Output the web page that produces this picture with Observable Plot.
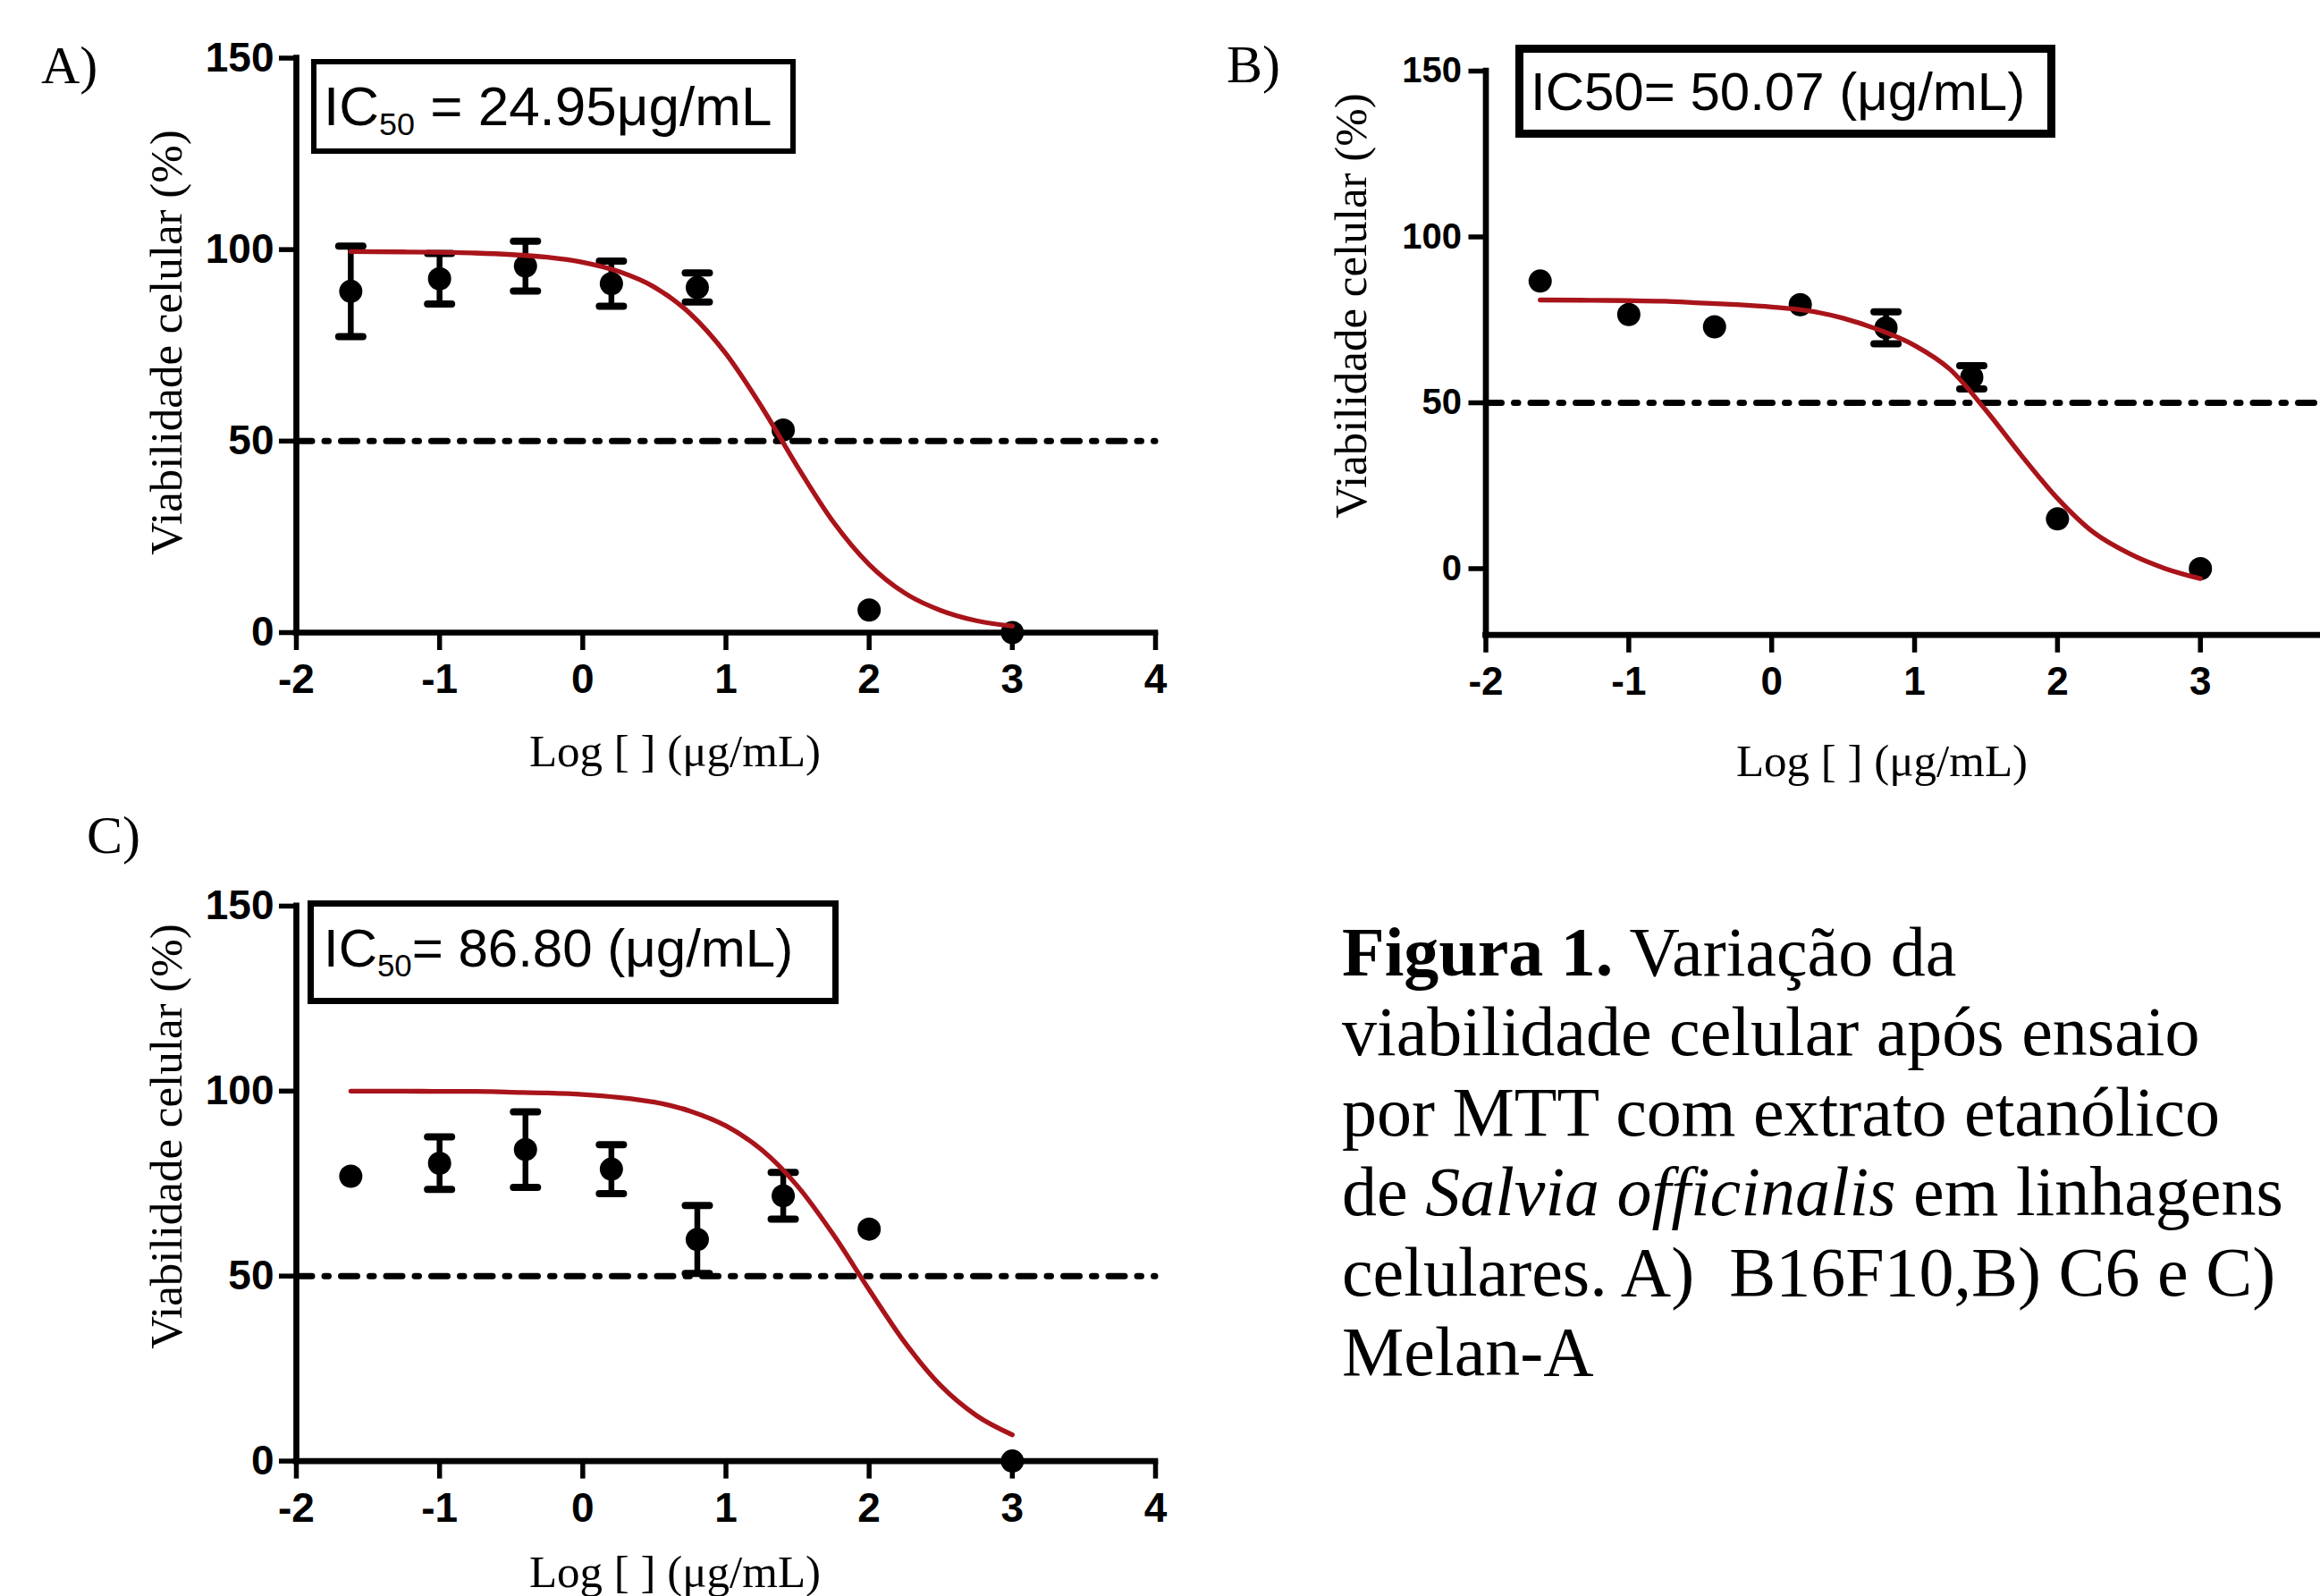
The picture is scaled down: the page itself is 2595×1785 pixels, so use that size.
<!DOCTYPE html>
<html>
<head>
<meta charset="utf-8">
<script src="https://cdn.jsdelivr.net/npm/d3@7"></script>
<script src="https://cdn.jsdelivr.net/npm/@observablehq/plot@0.6"></script>
<style>
  html, body { margin: 0; padding: 0; background: #fff; }
  #page { position: relative; width: 2595px; height: 1785px; overflow: hidden; background: #fff; }
  #page > svg { position: absolute; }
</style>
</head>
<body>
<div id="page"></div>
<script>
// ---------------- data ----------------
const logConc = [-1.62, -1.0, -0.4, 0.2, 0.8, 1.4, 2.0, 3.0];

const meanA = [89.1, 92.4, 95.7, 91.1, 90.1, 52.9, 5.9, 0];
const semA  = [11.8, 6.6, 6.5, 5.9, 3.8, 0, 0, 0];

const meanB = [86.7, 76.6, 72.9, 79.6, 72.6, 57.7, 15.0, 0];
const semB  = [0, 0, 0, 0, 4.8, 3.5, 0, 0];

const meanC = [77.0, 80.5, 84.2, 78.9, 59.9, 71.7, 62.7, 0];
const semC  = [0, 7.1, 10.2, 6.6, 9.2, 6.3, 0, 0];

// fitted dose-response curves
const fitX = [-1.62, -1.25, -1, -0.75, -0.5, -0.25, 0, 0.25, 0.5, 0.75, 1, 1.25, 1.5, 1.75, 2, 2.25, 2.5, 2.75, 3];
const fitA = [99.5, 99.4, 99.3, 99.1, 98.7, 98.0, 96.7, 94.3, 90.2, 83.3, 72.8, 58.9, 43.3, 28.9, 17.8, 10.3, 5.8, 3.1, 1.7];
const fitB = [81.0, 80.9, 80.8, 80.6, 80.1, 79.6, 78.9, 77.8, 75.5, 72.0, 67.3, 60.0, 47.7, 34.0, 21.2, 11.0, 4.6, 0.1, -3.0];
const fitC = [100, 100, 99.9, 99.9, 99.7, 99.5, 99.1, 98.3, 97.0, 94.6, 90.6, 84.1, 74.3, 61.2, 46.3, 32.0, 20.4, 12.3, 7.1];

const halfLine = [50];
const yTicks = [0, 50, 100, 150];
const xTicksAC = [-2, -1, 0, 1, 2, 3, 4];
const xTicksB = [-2, -1, 0, 1, 2, 3];

// texts
const panelLetters = ["A)", "B)", "C)"];
const yTitle = "Viabilidade celular (%)";
const xTitle = "Log [ ] (μg/mL)";
const icA = ["IC", "50", " = 24.95μg/mL"];
const icB = ["IC50= 50.07 (μg/mL)", "", ""];
const icC = ["IC", "50", "= 86.80 (μg/mL)"];

// ---------------- drawing ----------------
const serif = '"Palatino Linotype","Book Antiqua",Palatino,"Liberation Serif","Times New Roman",serif';
const sans = '"Liberation Sans",Arial,Helvetica,sans-serif';
const RED = "#a8141a";

const capSymbol = {
  draw(ctx, size) {
    const r = Math.sqrt(size / Math.PI);
    ctx.moveTo(-r, 0);
    ctx.lineTo(r, 0);
  }
};

function panel(cfg) {
  const pts = logConc.map((x, i) => ({x, y: cfg.means[i], lo: cfg.means[i] - cfg.sems[i], hi: cfg.means[i] + cfg.sems[i], err: cfg.sems[i] > 0}));
  const errs = pts.filter(d => d.err);
  const curve = fitX.map((x, i) => ({x, y: cfg.fit[i]}));
  const [x0, x1] = cfg.xDomain;
  const [y0, y1] = cfg.yDomain;
  return Plot.plot({
    width: cfg.width,
    height: cfg.height,
    marginLeft: cfg.ml, marginRight: cfg.mr, marginTop: cfg.mt, marginBottom: cfg.mb,
    x: {domain: cfg.xDomain, axis: null, label: null},
    y: {domain: cfg.yDomain, axis: null, label: null},
    style: {background: "transparent", overflow: "visible", fontFamily: sans, color: "black"},
    marks: [
      // 50 % reference line (dash-dot)
      Plot.ruleY(halfLine, {x1: () => x0, x2: () => x1, stroke: "black", strokeWidth: 7, strokeDasharray: "18,14,4.5,14", strokeLinecap: "round"}),
      // axis lines
      Plot.ruleX([x0], {y1: () => y0, y2: () => y1, stroke: "black", strokeWidth: 6.7, strokeLinecap: "square"}),
      Plot.ruleY([y0], {x1: () => x0, x2: () => x1, stroke: "black", strokeWidth: 6.7, strokeLinecap: "square"}),
      Plot.axisY(yTicks, {anchor: "left", tickSize: 19, tickPadding: cfg.yPad, strokeWidth: 5.5, fontSize: cfg.yFont, fontWeight: "bold", fontFamily: sans, fill: "black", tickFormat: d => String(d), label: null}),
      Plot.axisX(cfg.xTicks, {anchor: "bottom", tickSize: 20, tickPadding: cfg.xPad, strokeWidth: 5.5, fontSize: cfg.xFont, fontWeight: "bold", fontFamily: sans, fill: "black", tickFormat: d => String(d), label: null}),
      // error bars
      Plot.ruleX(errs, {x: "x", y1: "lo", y2: "hi", stroke: "black", strokeWidth: 6.5}),
      Plot.dot(errs, {x: "x", y: "hi", symbol: capSymbol, r: 13.5, fill: "none", stroke: "black", strokeWidth: 8, strokeLinecap: "round"}),
      Plot.dot(errs, {x: "x", y: "lo", symbol: capSymbol, r: 13.5, fill: "none", stroke: "black", strokeWidth: 8, strokeLinecap: "round"}),
      // means
      Plot.dot(pts, {x: "x", y: "y", r: 13, fill: "black", stroke: "none"}),
      // fitted curve
      Plot.line(curve, {x: "x", y: "y", stroke: RED, strokeWidth: 5.3, curve: "monotone-x"})
    ]
  });
}

const page = document.getElementById("page");
function place(node, left, top) {
  node.style.left = left + "px";
  node.style.top = top + "px";
  page.appendChild(node);
}

place(panel({means: meanA, sems: semA, fit: fitA, xDomain: [-2, 4], yDomain: [0, 150], xTicks: xTicksAC,
  width: 1320, height: 900, ml: 331, mr: 28, mt: 64.5, mb: 193, yFont: 46, xFont: 46, yPad: 6, xPad: 15}), 0, 0);

place(panel({means: meanB, sems: semB, fit: fitB, xDomain: [-2, 3.84], yDomain: [-20, 150], xTicks: xTicksB,
  width: 1275, height: 900, ml: 341.5, mr: 0, mt: 79, mb: 190.3, yFont: 40, xFont: 44, yPad: 8, xPad: 16}), 1320, 0);

place(panel({means: meanC, sems: semC, fit: fitC, xDomain: [-2, 4], yDomain: [0, 150], xTicks: xTicksAC,
  width: 1320, height: 885, ml: 331, mr: 28, mt: 112.9, mb: 151.4, yFont: 46, xFont: 46, yPad: 6, xPad: 15}), 0, 900);

// ---------------- annotations overlay ----------------
const svg = d3.create("svg").attr("width", 2595).attr("height", 1785)
  .style("left", "0px").style("top", "0px").style("pointer-events", "none");

function text(x, y, str, size, family, opts = {}) {
  const t = svg.append("text").attr("x", x).attr("y", y)
    .attr("font-size", size).attr("font-family", family).attr("fill", "black")
    .attr("text-anchor", opts.anchor || "start")
    .style("white-space", "pre")
    .text(str);
  if (opts.weight) t.attr("font-weight", opts.weight);
  return t;
}

// panel letters
text(46, 93, panelLetters[0], 60, serif);
text(1372, 92, panelLetters[1], 60, serif);
text(97, 954, panelLetters[2], 60, serif);

// y titles (rotated)
function yLabel(bx, cy) {
  svg.append("text").attr("transform", `translate(${bx},${cy}) rotate(-90)`)
    .attr("text-anchor", "middle").attr("font-size", 51).attr("font-family", serif).attr("fill", "black")
    .text(yTitle);
}
yLabel(203, 383);
yLabel(1528, 342);
yLabel(203, 1271);

// x titles
text(755, 857, xTitle, 51, serif, {anchor: "middle"});
text(2105, 868, xTitle, 51, serif, {anchor: "middle"});
text(755, 1775, xTitle, 51, serif, {anchor: "middle"});

// IC50 boxes
function icBox(rx, ry, rw, rh, bw, tx, ty, size, parts) {
  svg.append("rect").attr("x", rx).attr("y", ry).attr("width", rw).attr("height", rh)
    .attr("fill", "none").attr("stroke", "black").attr("stroke-width", bw);
  const t = svg.append("text").attr("x", tx).attr("y", ty).attr("font-size", size)
    .attr("font-family", sans).attr("fill", "black").style("white-space", "pre");
  t.append("tspan").text(parts[0]);
  if (parts[1]) {
    t.append("tspan").attr("font-size", size * 0.58).attr("dy", 11).text(parts[1]);
    t.append("tspan").attr("dy", -11).text(parts[2]);
  }
}
icBox(351, 69, 536, 100, 6, 362, 140, 62, icA);
icBox(1699.5, 54.5, 595, 95, 9, 1712, 123, 60, icB);
icBox(347.5, 1010.5, 587, 109, 7, 362, 1081, 60, icC);

// caption
const capX = 1501, capY0 = 1091, capDY = 89.4, capSize = 78;
const cap = svg.append("g").attr("font-family", serif).attr("font-size", capSize).attr("fill", "black");
function capLine(i) {
  return cap.append("text").attr("x", capX).attr("y", capY0 + i * capDY).style("white-space", "pre");
}
let l = capLine(0);
l.append("tspan").attr("font-weight", "bold").text("Figura 1.");
l.append("tspan").text(" Variação da");
capLine(1).text("viabilidade celular após ensaio");
capLine(2).text("por MTT com extrato etanólico");
l = capLine(3);
l.append("tspan").text("de ");
l.append("tspan").attr("font-style", "italic").text("Salvia officinalis");
l.append("tspan").text(" em linhagens");
capLine(4).text("celulares. A)  B16F10,B) C6 e C)");
capLine(5).text("Melan-A");

page.appendChild(svg.node());
</script>
</body>
</html>
